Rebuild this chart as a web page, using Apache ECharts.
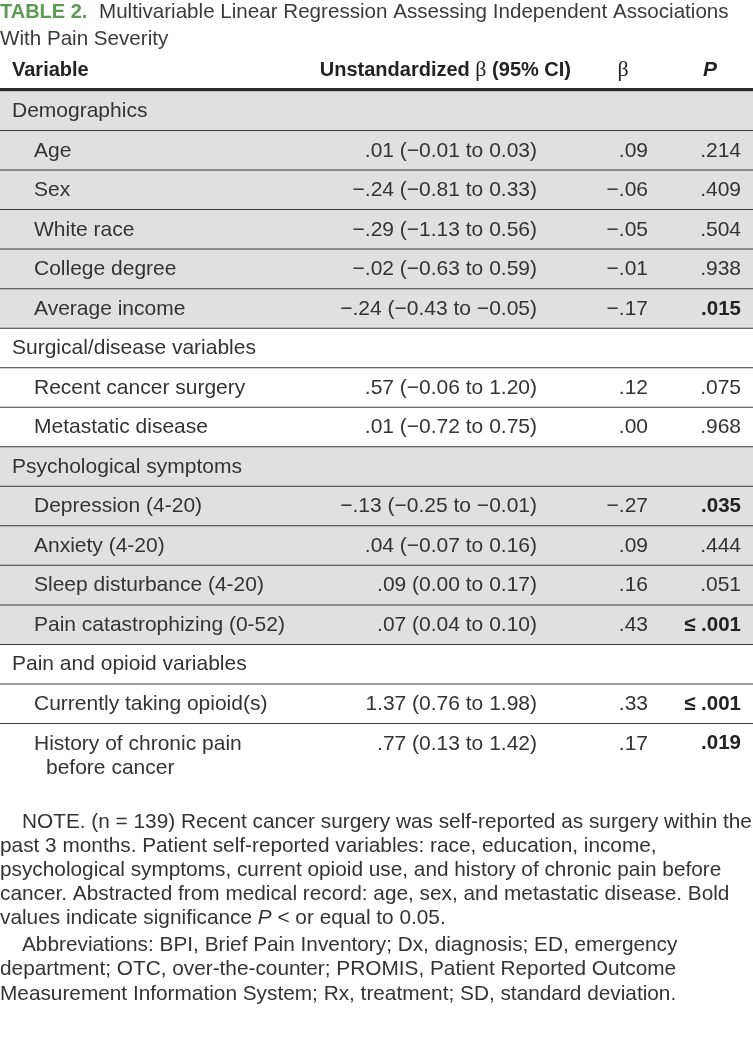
<!DOCTYPE html>
<html><head><meta charset="utf-8">
<script src="https://cdn.jsdelivr.net/npm/echarts@6/dist/echarts.min.js"></script>
<style>html,body{margin:0;padding:0;background:#fff}#c{width:753px;height:1049px}</style>
</head><body><div id="c"></div>
<script>
// ---- data ----
const variables = ['Demographics','Age','Sex','White race','College degree','Average income',
  'Surgical/disease variables','Recent cancer surgery','Metastatic disease',
  'Psychological symptoms','Depression (4-20)','Anxiety (4-20)','Sleep disturbance (4-20)','Pain catastrophizing (0-52)',
  'Pain and opioid variables','Currently taking opioid(s)','History of chronic pain\nbefore cancer'];
const isSection = [true,false,false,false,false,false, true,false,false, true,false,false,false,false, true,false,false];
const unstandardizedBeta = ['', '.01 (\u22120.01 to 0.03)', '\u2212.24 (\u22120.81 to 0.33)', '\u2212.29 (\u22121.13 to 0.56)',
  '\u2212.02 (\u22120.63 to 0.59)', '\u2212.24 (\u22120.43 to \u22120.05)', '', '.57 (\u22120.06 to 1.20)', '.01 (\u22120.72 to 0.75)',
  '', '\u2212.13 (\u22120.25 to \u22120.01)', '.04 (\u22120.07 to 0.16)', '.09 (0.00 to 0.17)', '.07 (0.04 to 0.10)',
  '', '1.37 (0.76 to 1.98)', '.77 (0.13 to 1.42)'];
const standardizedBeta = ['', '.09', '\u2212.06', '\u2212.05', '\u2212.01', '\u2212.17', '', '.12', '.00',
  '', '\u2212.27', '.09', '.16', '.43', '', '.33', '.17'];
const pValues = ['', '.214', '.409', '.504', '.938', '.015', '', '.075', '.968',
  '', '.035', '.444', '.051', '\u2264 .001', '', '\u2264 .001', '.019'];
const pSignificant = [false,false,false,false,false,true,false,false,false,false,true,false,false,true,false,true,true];
const headers = ['Variable', 'Unstandardized \u03b2 (95% CI)', '\u03b2', 'P'];
const titleLabel = 'TABLE 2.';
const titleText = ['Multivariable Linear Regression Assessing Independent Associations', 'With Pain Severity'];
const noteLines = [
  'NOTE. (n = 139) Recent cancer surgery was self-reported as surgery within the',
  'past 3 months. Patient self-reported variables: race, education, income,',
  'psychological symptoms, current opioid use, and history of chronic pain before',
  'cancer. Abstracted from medical record: age, sex, and metastatic disease. Bold'
];
const abbrevLines = [
  'Abbreviations: BPI, Brief Pain Inventory; Dx, diagnosis; ED, emergency',
  'department; OTC, over-the-counter; PROMIS, Patient Reported Outcome',
  'Measurement Information System; Rx, treatment; SD, standard deviation.'
];

// ---- styles ----
const W = 753;
const FONT = '"Liberation Sans", Arial, sans-serif';
const BOLD = '"Liberation Sans Narrow", "Liberation Sans", Arial, sans-serif';
const TXT = '#333';
const SHADE = '#e1e0e0';
const BODY_SIZE = 21;
const NOTE_SIZE = 20.8;

// section parity for shading
const sectionIdx = [];
let s = -1;
isSection.forEach((v) => { if (v) s++; sectionIdx.push(s); });

function txt(text, x, y, align, opts) {
  opts = opts || {};
  return { type: 'text', style: Object.assign({
    text: text, x: x, y: y, align: align, textAlign: align,
    verticalAlign: 'middle', textVerticalAlign: 'middle',
    fontSize: BODY_SIZE, fontFamily: FONT, fill: TXT
  }, opts) };
}

function renderItem(params, api) {
  const i = params.dataIndex;
  const c = api.coord([0, i]);
  const h = api.size([0, 1])[1];
  const top = c[1] - h / 2, bot = c[1] + h / 2;
  const X = (v) => api.coord([v, i])[0];
  const children = [];
  const shaded = sectionIdx[i] % 2 === 0;
  children.push({ type: 'rect', shape: { x: X(0), y: top, width: X(W) - X(0), height: (i === variables.length - 1 ? h + 30 : h) },
    style: { fill: shaded ? SHADE : '#fff' } });
  if (i < variables.length - 1) {
    children.push({ type: 'rect', shape: { x: X(0), y: bot - 1, width: X(W) - X(0), height: 2 }, style: { fill: '#3a3a3a' } });
    children.push({ type: 'rect', shape: { x: X(0), y: bot + 1, width: X(W) - X(0), height: 1 }, style: { fill: '#9a9a9a' } });
  }
  const lines = variables[i].split('\n');
  lines.forEach((ln, k) => {
    const lx = isSection[i] ? X(12) : X(34) + (k > 0 ? 12 : 0);
    children.push(txt(ln, lx, c[1] + k * 24, 'left'));
  });
  if (!isSection[i]) {
    children.push(txt(unstandardizedBeta[i], X(537), c[1], 'right'));
    children.push(txt(standardizedBeta[i], X(648), c[1], 'right'));
    children.push(txt(pValues[i], X(741), c[1], 'right',
      pSignificant[i] ? { fontFamily: BOLD, fontWeight: 'bold', fill: '#222', fontSize: 20.5 } : {}));
  }
  return { type: 'group', children: children };
}

const graphics = [];
// title
graphics.push({ type: 'text', x: 0, y: 12, style: {
  text: titleLabel, fontFamily: BOLD, fontWeight: 'bold', fontSize: 20, fill: '#5b9b52',
  verticalAlign: 'middle', textVerticalAlign: 'middle' } });
graphics.push({ type: 'text', x: 99, y: 12, style: { text: titleText[0], fontFamily: FONT, fontSize: 20.6, fill: '#3a3a3a', verticalAlign: 'middle', textVerticalAlign: 'middle' } });
graphics.push({ type: 'text', x: 0, y: 39, style: { text: titleText[1], fontFamily: FONT, fontSize: 20.6, fill: '#3a3a3a', verticalAlign: 'middle', textVerticalAlign: 'middle' } });
// header
graphics.push({ type: 'text', x: 12, y: 70, style: { text: headers[0], fontFamily: BOLD, fontWeight: 'bold', fontSize: 20, fill: '#222', verticalAlign: 'middle', textVerticalAlign: 'middle' } });
graphics.push({ type: 'text', x: 571, y: 70, style: {
  text: '{b|Unstandardized }{g|\u03b2}{b| (95% CI)}', align: 'right', textAlign: 'right', verticalAlign: 'middle', textVerticalAlign: 'middle',
  rich: { b: { fontFamily: BOLD, fontWeight: 'bold', fontSize: 20, fill: '#222' },
          g: { fontFamily: '"Liberation Serif", serif', fontSize: 22, fill: '#222' } } } });
graphics.push({ type: 'text', x: 623, y: 70, style: { text: headers[2], fontFamily: '"Liberation Serif", serif', fontSize: 22, fill: '#222', align: 'center', textAlign: 'center', verticalAlign: 'middle', textVerticalAlign: 'middle' } });
graphics.push({ type: 'text', x: 710, y: 70, style: { text: headers[3], fontFamily: BOLD, fontWeight: 'bold', fontStyle: 'italic', fontSize: 21, fill: '#222', align: 'center', textAlign: 'center', verticalAlign: 'middle', textVerticalAlign: 'middle' } });
graphics.push({ type: 'rect', shape: { x: 0, y: 88, width: W, height: 3.5 }, style: { fill: '#2a2a2a' } });
// notes
const noteY = [822, 846, 870, 894];
noteLines.forEach((ln, k) => {
  graphics.push({ type: 'text', x: k === 0 ? 22 : 0, y: noteY[k], style: { text: ln, fontFamily: FONT, fontSize: NOTE_SIZE, fill: TXT, verticalAlign: 'middle', textVerticalAlign: 'middle' } });
});
graphics.push({ type: 'text', x: 0, y: 918, style: {
  text: '{r|values indicate significance }{i|P}{r| < or equal to 0.05.}', verticalAlign: 'middle', textVerticalAlign: 'middle',
  rich: { r: { fontFamily: FONT, fontSize: NOTE_SIZE, fill: TXT }, i: { fontFamily: FONT, fontStyle: 'italic', fontSize: NOTE_SIZE, fill: TXT } } } });
const abY = [945, 969, 994];
abbrevLines.forEach((ln, k) => {
  graphics.push({ type: 'text', x: k === 0 ? 22 : 0, y: abY[k], style: { text: ln, fontFamily: FONT, fontSize: NOTE_SIZE, fill: TXT, verticalAlign: 'middle', textVerticalAlign: 'middle' } });
});

const chart = echarts.init(document.getElementById('c'), null, { renderer: 'canvas' });
chart.setOption({
  animation: false,
  backgroundColor: '#fff',
  grid: { left: 0, right: 0, top: 91.5, height: 672 },
  xAxis: { type: 'value', min: 0, max: W, show: false },
  yAxis: { type: 'category', data: variables, inverse: true, show: false },
  series: [{ type: 'custom', silent: true, renderItem: renderItem,
    data: variables.map((v, i) => [0, i]), encode: { x: 0, y: 1 } }],
  graphic: graphics
});
</script></body></html>
